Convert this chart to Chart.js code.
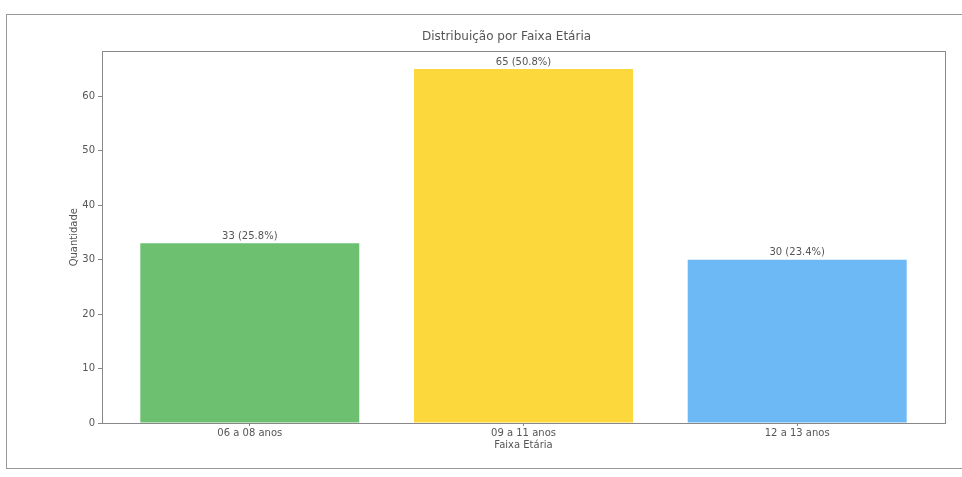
<!DOCTYPE html>
<html>
<head>
<meta charset="utf-8">
<script src="https://cdn.jsdelivr.net/npm/chart.js@4"></script>
<style>
  html, body { margin: 0; padding: 0; background: #fff; overflow: hidden; }
  #wrap { position: relative; width: 962px; height: 477px; }
  #frame {
    position: absolute; left: 6px; top: 14px; width: 970px; height: 455px;
    border: 1px solid #999; box-sizing: border-box;
  }
  canvas { position: absolute; left: 0; top: 0; }
</style>
</head>
<body>
<div id="wrap">
  <div id="frame"></div>
  <canvas id="barChart" width="962" height="477"></canvas>
</div>
<script>
// Données
const categories = ['06 a 08 anos', '09 a 11 anos', '12 a 13 anos'];
const quantidades = [33, 65, 30];
const cores = ['#6cc070', '#fdd83c', '#6cb9f6'];
const yTicks = [0, 10, 20, 30, 40, 50, 60];

const total = quantidades.reduce((a, b) => a + b, 0);
const textColor = '#555';
const axisColor = '#888';
const fontFamily = '"DejaVu Sans", sans-serif';

// Cadre complet autour de la zone du graphique + étiquettes au-dessus des barres
const extras = {
  id: 'extras',
  afterDatasetsDraw(chart) {
    const ctx = chart.ctx;
    const meta = chart.getDatasetMeta(0);
    ctx.save();
    ctx.font = '10px ' + fontFamily;
    ctx.fillStyle = textColor;
    ctx.textAlign = 'center';
    ctx.textBaseline = 'bottom';
    meta.data.forEach((bar, i) => {
      const v = quantidades[i];
      const pct = (v / total * 100).toFixed(1);
      ctx.fillText(v + ' (' + pct + '%)', bar.x, bar.y - 2);
    });
    const a = chart.chartArea;
    ctx.strokeStyle = axisColor;
    ctx.lineWidth = 1;
    ctx.strokeRect(Math.round(a.left) + 0.5, Math.round(a.top) + 0.5,
      Math.round(a.right - a.left), Math.round(a.bottom - a.top));
    ctx.restore();
  }
};

const ctxBar = document.getElementById('barChart').getContext('2d');
new Chart(ctxBar, {
  type: 'bar',
  data: {
    datasets: [{
      data: quantidades.map((v, i) => ({ x: i, y: v })),
      backgroundColor: cores,
      borderWidth: 0,
      barPercentage: 0.8,
      categoryPercentage: 1
    }]
  },
  options: {
    responsive: false,
    animation: false,
    layout: { padding: { left: 68, right: 17, top: 0, bottom: 26 } },
    plugins: {
      legend: { display: false },
      tooltip: { enabled: false },
      title: {
        display: true,
        text: 'Distribuição por Faixa Etária',
        color: textColor,
        font: { family: fontFamily, size: 12, weight: 'normal' },
        padding: { top: 30, bottom: 7 }
      }
    },
    scales: {
      x: {
        type: 'linear',
        min: -0.54,
        max: 2.54,
        offset: false,
        afterBuildTicks: scale => { scale.ticks = categories.map((c, i) => ({ value: i })); },
        afterFit: scale => { scale.height = 28; },
        ticks: {
          callback: v => categories[v],
          color: textColor,
          font: { family: fontFamily, size: 10 },
          padding: 1,
          maxRotation: 0,
          autoSkip: false
        },
        grid: { offset: false, drawOnChartArea: false, color: axisColor, tickLength: 3 },
        border: { display: false },
        title: {
          display: true,
          text: 'Faixa Etária',
          color: textColor,
          font: { family: fontFamily, size: 10 },
          padding: 0
        }
      },
      y: {
        min: 0,
        max: 65 * 1.05,
        afterBuildTicks: scale => { scale.ticks = yTicks.map(v => ({ value: v })); },
        afterFit: scale => { scale.width = 34; },
        ticks: {
          color: textColor,
          font: { family: fontFamily, size: 10 },
          padding: 3
        },
        grid: { drawOnChartArea: false, color: axisColor, tickLength: 4 },
        border: { display: false },
        title: {
          display: true,
          text: 'Quantidade',
          color: textColor,
          font: { family: fontFamily, size: 10 },
          padding: 0
        }
      }
    }
  },
  plugins: [extras]
});
</script>
</body>
</html>
